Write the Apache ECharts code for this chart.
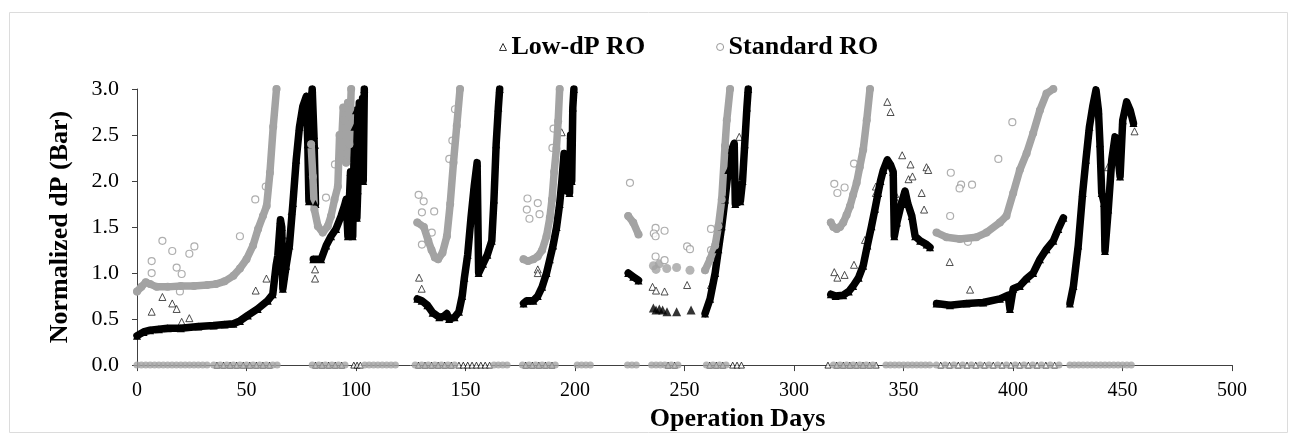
<!DOCTYPE html>
<html>
<head>
<meta charset="utf-8">
<title>Normalized dP</title>
<script src="https://cdn.jsdelivr.net/npm/echarts@6/dist/echarts.min.js"></script>
<style>
  html, body { margin: 0; padding: 0; background: #fff; }
  #chart { width: 1289px; height: 437px; }
</style>
</head>
<body>
<div id="chart"></div>
<script>
// dense runs of the Low-dP RO train, [day, dP]
var lowRun1 = [[0,0.32],[3,0.36],[6,0.38],[10,0.39],[14,0.40],[20,0.40],[28,0.42],[35,0.43],[40,0.44],[44,0.45],[47,0.48],[50.6,0.54],[55.1,0.61],[59.7,0.70],[62,0.77],[63.5,1.08],[64.3,1.19],[65.5,1.58],[66.1,1.50],[66.6,0.83],[68.1,1.08],[69.6,1.30],[71.2,1.76],[72.7,2.23],[74.2,2.59],[75.7,2.81],[77.3,2.92],[78,2.40],[78.5,1.78],[79.3,2.70],[80,3.0],[80.8,2.50],[81.5,1.75]];
var lowRun2 = [[80.5,1.15],[84.1,1.15],[86.4,1.30],[88.6,1.40],[90.9,1.48],[93.2,1.62],[94.7,1.73],[95.5,1.80],[96.3,1.40],[97.5,2.10],[98.5,1.40],[99.3,2.59],[100,2.77],[100.4,1.60],[100.8,1.90],[101.5,2.85],[102.3,2.20],[103,2.90],[103.3,2.00],[103.8,3.0]];
var lowRun3 = [[128,0.72],[130,0.70],[132.6,0.65],[135,0.57],[138,0.52],[140,0.53],[141.5,0.56],[142.5,0.50],[145,0.52],[147,0.58],[148.5,0.75],[149.5,0.95],[151,1.20],[152.5,1.60],[154,1.95],[155.3,2.20],[156,1.00],[158,1.10],[160,1.20],[162,1.35],[163,1.80],[164,2.40],[165,2.80],[165.6,3.0]];
var lowRun4 = [[176.5,0.67],[178,0.70],[181,0.70],[183,0.75],[185,0.85],[187,1.00],[188.5,1.15],[190,1.30],[191.6,1.50],[193,1.75],[194,2.00],[195,2.30],[196,1.90],[197.5,1.87],[198,2.50],[198.5,2.00],[199,2.80],[199.5,3.0]];
var lowRun5 = [[224.3,1.00],[226.6,0.96],[229,0.92]];
var lowRun6 = [[259.4,0.56],[261.7,0.72],[264,1.00],[265.5,1.26],[267,1.51],[268.5,1.80],[270,2.12],[271.6,2.34],[272.7,2.41],[273.2,1.75],[275.5,1.78],[276.5,2.00],[277.5,2.40],[278.5,2.80],[279.1,3.0]];
var lowRun7 = [[316.8,0.77],[319,0.75],[322.5,0.76],[325,0.80],[327,0.86],[329.5,0.95],[331.6,1.08],[333.5,1.30],[335.4,1.51],[337,1.70],[338.4,1.87],[339.5,2.00],[340.8,2.12],[342.6,2.23],[344,2.18],[345.3,2.10],[345.8,1.40],[347,1.55],[349,1.75],[350.7,1.89],[352,1.75],[353.8,1.62],[355.3,1.40],[357.6,1.35],[360.6,1.31],[362.1,1.28]];
var lowRun8 = [[365.1,0.67],[371.2,0.65],[378.8,0.67],[386.4,0.68],[394,0.72],[397.8,0.76],[398.6,0.61],[400.1,0.83],[403.1,0.86],[406.2,0.94],[409.2,1.00],[412.3,1.15],[415.3,1.26],[418.4,1.35],[420.7,1.48],[423,1.60]];
var lowRun9 = [[426,0.67],[427.6,0.86],[429.8,1.30],[431.8,1.87],[433.3,2.23],[434.9,2.59],[436.4,2.81],[437.9,2.99],[439,2.77],[439.7,2.41],[440.5,1.87],[441.6,1.76],[442,1.24],[443.5,1.69],[445.1,2.23],[446.6,2.48],[448.1,2.23],[448.9,2.05],[450.1,2.66],[451.9,2.86],[453.5,2.77],[455,2.63]];
var lowBlobs = [[235.8,0.62],[237,0.60],[238.5,0.61],[240,0.60],[242,0.58],[246.4,0.58],[253,0.60]];
var lowOutliers = [[6.7,0.58],[11.6,0.74],[16.1,0.67],[18.1,0.61],[20.4,0.47],[23.9,0.51],[54.2,0.81],[59.1,0.94],[68,1.35],[70.6,1.67],[81.3,0.94],[81.3,1.04],[80.5,2.29],[81.3,2.39],[102.6,2.05],
  [128.8,0.95],[130,0.83],[183,1.04],[183,1.00],[193.9,2.53],[235.4,0.85],[237,0.81],[240.9,0.80],[251.2,0.87],[262.1,0.87],[275,2.48],
  [318.4,1.01],[319.8,0.95],[323.1,0.98],[327.4,1.09],[332.4,1.36],[337.4,1.94],[337.4,1.87],[342.6,2.86],[344.1,2.75],[349.4,2.28],[353.2,2.18],[360.5,2.15],[361.3,2.12],[352.3,2.02],[354.1,2.05],[346.2,1.86],[347.3,1.76],[358.3,1.87],[359.4,1.69],[371.1,1.12],[380.4,0.82],[455.5,2.54],[443.4,2.15]];
var lowZeroDays = [36.5,39.5,42.5,45.5,48.5,51.5,54.5,57.5,60.5,81.5,84.5,87.5,90.5,93.5,99,100.5,102,
  128.5,131.5,134.5,137.5,140.5,143.5,147,149,151,153,155,157,159,161,177.5,180.5,183.5,186.5,189.5,
  242.5,245.5,261.5,264.5,267.5,272,274,276,315.5,319.5,322.5,325.5,328.5,331.5,334.5,337.5,
  367,371,375,379,383,387,391,395,399,403,407,411,415,419];

// dense runs of the Standard RO train
var stdRun1 = [[0,0.80],[2,0.85],[4,0.90],[6,0.88],[9,0.85],[14,0.85],[20,0.86],[26,0.86],[32,0.87],[36,0.88],[40,0.91],[44,0.97],[47,1.05],[50,1.15],[53,1.30],[55.3,1.48],[57.5,1.62],[59.2,1.73],[60.7,2.09],[62.2,2.59],[63.7,3.0]];
var stdRun2 = [[79.5,2.40],[80.3,2.05],[81,1.69],[82.6,1.51],[84.8,1.44],[87.1,1.51],[88.6,1.62],[90.2,1.80],[91.7,1.94],[92.5,2.50],[93.2,2.30],[94.2,2.80],[94.7,2.66],[95.5,2.20],[96.3,2.85],[97,2.40],[97.8,3.0]];
var stdRun3 = [[128,1.55],[131,1.50],[133,1.35],[134.5,1.25],[136,1.17],[137.5,1.15],[139.5,1.22],[141.5,1.40],[143,1.75],[144.5,2.20],[146,2.60],[147.5,3.0]];
var stdRun4 = [[176.5,1.15],[178.5,1.13],[181,1.15],[183,1.18],[185,1.25],[187,1.40],[188.5,1.60],[189.5,1.80],[190.5,2.10],[191.5,2.35],[192.3,2.65],[193,3.0]];
var stdRun5 = [[224.3,1.62],[226.6,1.55],[229,1.42]];
var stdRun6 = [[259.4,1.03],[261.7,1.15],[264,1.30],[265.5,1.51],[267,1.80],[268.5,2.38],[269.3,2.66],[270.8,3.0]];
var stdRun7 = [[316.8,1.55],[318,1.50],[319.5,1.48],[321,1.50],[322.5,1.55],[324,1.63],[325.6,1.73],[327,1.85],[328.6,1.98],[330,2.15],[331.6,2.34],[333.2,2.66],[334.7,3.0]];
var stdRun8 = [[365.1,1.44],[369.6,1.39],[375.7,1.37],[383.3,1.39],[387.9,1.44],[394,1.55],[397,1.62],[400.1,1.87],[403.1,2.12],[406.2,2.30],[409.2,2.52],[412.3,2.77],[415.3,2.95],[418.4,3.0]];
var stdBlobs = [[235.8,1.08],[237,1.04],[238.5,1.10],[241.9,1.05],[246.4,1.06],[252.5,1.03]];
var stdOutliers = [[6.7,1.13],[6.7,1.00],[11.6,1.35],[16.1,1.24],[18.1,1.06],[20.4,0.99],[23.9,1.21],[26.2,1.29],[19.6,0.80],[47,1.40],[54,1.80],[58.8,1.94],[90.4,2.18],[86.3,1.82],
  [128.6,1.85],[130.9,1.78],[130.1,1.66],[135.7,1.67],[134.6,1.44],[130.1,1.31],[142.6,2.24],[144,2.44],[145.2,2.78],
  [178.3,1.81],[183,1.76],[178,1.69],[179.2,1.59],[183.8,1.64],[190.2,2.57],[189.7,2.36],
  [225.1,1.98],[236.8,1.49],[240.9,1.46],[236,1.43],[236.8,1.40],[236.8,1.18],[240.9,1.14],[251.2,1.29],[252.5,1.26],[262.1,1.48],[262.1,1.25],
  [318.4,1.97],[319.8,1.87],[323.1,1.93],[327.4,2.19],[371.6,2.09],[376.3,1.96],[381.3,1.96],[375.6,1.92],[371.3,1.62],[393.3,2.24],[399.7,2.64],[379.4,1.34]];
var stdZeroDays = [0,2,4,6,8,10,12,14,16,18,20,22,24,26,28,30,32,35,38,41,44,47,50,53,56,59,62,64,
  80,83,86,89,92,95,104,106,108,110,112,114,116,118,127,130,133,136,139,142,145,163,165,167,169,
  176,179,182,185,188,191,201,203,205,207,224,226,228,235,237,239,241,244,247,260,263,266,269,
  318,321,324,327,330,333,336,342,344,346,348,350,352,354,356,358,360,362,
  365,369,373,377,381,385,389,393,397,401,405,409,413,417,421,
  426,428,430,432,434,436,438,440,442,444,446,448,450,452,454];

var xTicks = [0, 500, 50];
var yTicks = [0, 3, 0.5];

var FONT = 'Liberation Serif';
var LOW = 'Low-dP RO', STD = 'Standard RO';
var BLACK = '#000000', GRAY = '#a3a3a3';

function runSeries(name, data, symbol, color) {
  return {
    type: 'line', name: name, data: data,
    symbol: symbol, symbolSize: 8, showSymbol: true,
    lineStyle: { width: 7.5, color: color, cap: 'round', join: 'round' },
    itemStyle: { color: color },
    silent: true
  };
}

function dotSeries(name, data, symbol, size, style) {
  return {
    type: 'scatter', name: name, data: data,
    symbol: symbol, symbolSize: size, itemStyle: style, silent: true
  };
}

var zeroPts = function (days) {
  return days.map(function (d) { return [d, 0]; });
};

var series = [];
[lowRun1, lowRun2, lowRun3, lowRun4, lowRun5, lowRun6, lowRun7, lowRun8, lowRun9].forEach(function (r) {
  series.push(runSeries(LOW, r, 'triangle', BLACK));
});
series.push(dotSeries(LOW, lowBlobs, 'triangle', 9, { color: BLACK }));
series.push(dotSeries(LOW, lowOutliers, 'triangle', 7, { color: '#fff', borderColor: '#222', borderWidth: 1 }));
series.push(dotSeries(LOW, zeroPts(lowZeroDays), 'triangle', 6, { color: '#fff', borderColor: '#111', borderWidth: 1 }));
[stdRun1, stdRun2, stdRun3, stdRun4, stdRun5, stdRun6, stdRun7, stdRun8].forEach(function (r) {
  series.push(runSeries(STD, r, 'circle', GRAY));
});
series.push(dotSeries(STD, stdBlobs, 'circle', 9, { color: GRAY }));
series.push(dotSeries(STD, stdOutliers, 'circle', 7, { color: '#fff', borderColor: '#9a9a9a', borderWidth: 1.2 }));
series.push(dotSeries(STD, zeroPts(stdZeroDays), 'circle', 7, { color: GRAY }));

var chart = echarts.init(document.getElementById('chart'));
chart.setOption({
  animation: false,
  backgroundColor: '#fff',
  graphic: [{
    type: 'rect', left: 7, top: 10, silent: true,
    shape: { width: 1278, height: 420 },
    style: { fill: 'none', stroke: '#dcdcdc', lineWidth: 1 }
  }],
  legend: {
    left: 494, top: 29,
    itemWidth: 7, itemHeight: 7, itemGap: 71,
    textStyle: { fontFamily: FONT, fontSize: 26, fontWeight: 'bold', color: '#000' },
    data: [
      { name: LOW, icon: 'triangle', itemStyle: { color: '#fff', borderColor: '#333', borderWidth: 1 } },
      { name: STD, icon: 'circle', itemStyle: { color: '#fff', borderColor: '#999', borderWidth: 1 } }
    ]
  },
  grid: { left: 137, right: 57, top: 89, bottom: 70 },
  xAxis: {
    type: 'value', min: xTicks[0], max: xTicks[1], interval: xTicks[2],
    name: 'Operation Days', nameLocation: 'middle', nameGap: 34,
    nameTextStyle: { fontFamily: FONT, fontSize: 26, fontWeight: 'bold', color: '#000', padding: [0, 0, 0, 106] },
    axisLine: { show: true, lineStyle: { color: '#404040', width: 1 } },
    axisTick: { show: true, inside: false, length: 6, lineStyle: { color: '#404040' } },
    axisLabel: { fontFamily: FONT, fontSize: 20, color: '#000', margin: 16 },
    splitLine: { show: false }
  },
  yAxis: {
    type: 'value', min: yTicks[0], max: yTicks[1], interval: yTicks[2],
    name: 'Normalized dP (Bar)', nameLocation: 'middle', nameGap: 64,
    nameTextStyle: { fontFamily: FONT, fontSize: 26, fontWeight: 'bold', color: '#000' },
    axisLine: { show: true, lineStyle: { color: '#404040', width: 1 } },
    axisTick: { show: true, inside: false, length: 5, lineStyle: { color: '#404040' } },
    axisLabel: { fontFamily: FONT, fontSize: 22, color: '#000', margin: 18,
      formatter: function (v) { return v.toFixed(1); } },
    splitLine: { show: false }
  },
  series: series
});
</script>
</body>
</html>
